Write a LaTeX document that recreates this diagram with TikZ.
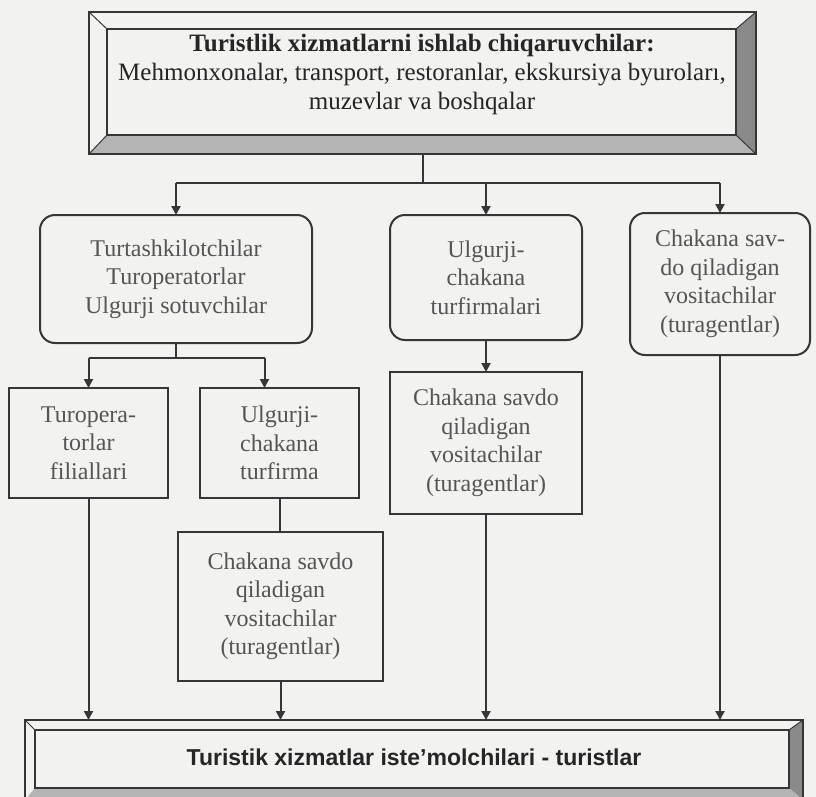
\documentclass[tikz,border=0pt]{standalone}
\usepackage{fontspec}
\setmainfont{Liberation Serif}
\setsansfont{Liberation Sans}
\usetikzlibrary{calc,arrows.meta}

\definecolor{paper}{HTML}{F2F2F0}
\definecolor{ink}{HTML}{363636}
\definecolor{boxtext}{HTML}{555555}
\definecolor{headtext}{HTML}{252525}
\definecolor{bevdark}{HTML}{8A8A8A}
\definecolor{bevlight}{HTML}{B4B4B4}

\begin{document}
\begin{tikzpicture}[x=1pt,y=-1pt,
  line/.style={draw=ink,line width=2pt},
  arr/.style={line,-{Triangle[length=9pt,width=9pt]}},
  frameline/.style={draw=ink,line width=1.8pt},
  corner/.style={draw=ink,line width=1pt},
  shell/.style={inner sep=0pt,outer sep=0pt},
  boxbase/.style={draw=ink,line width=2pt,fill=paper,inner sep=0pt,outer sep=0pt,
    align=center,text=boxtext,font=\fontsize{24}{28.5}\selectfont},
  rbox/.style={boxbase,rounded corners=15pt},
  sbox/.style={boxbase},
  headline/.style={align=center,text=headtext,font=\fontsize{25}{29}\selectfont},
  footline/.style={text=headtext,font=\sffamily\bfseries\fontsize{23}{27}\selectfont},
]
\fill[paper] (0,0) rectangle (816,797);
\useasboundingbox (0,0) rectangle (816,797);

% ---- producers: bevelled frame ----
\node[shell,minimum width=667pt,minimum height=142pt] (prod) at (422.5,83) {};
\coordinate (pnw) at ($(prod.north west)+(18,17)$);
\coordinate (pse) at ($(prod.south east)+(-20,-19)$);
\fill[bevdark] (prod.north east) -- (prod.south east) -- (pse) -- (pse |- pnw) -- cycle;
\fill[bevlight] (prod.south west) -- (prod.south east) -- (pse) -- (pnw |- pse) -- cycle;
\draw[frameline] (prod.north west) rectangle (prod.south east);
\draw[frameline] (pnw) rectangle (pse);
\draw[corner] (prod.north west) -- (pnw);
\draw[corner] (prod.south west) -- (pnw |- pse);
\draw[corner] (prod.north east) -- (pse |- pnw);
\draw[corner] (prod.south east) -- (pse);
\node[headline] (prodtext) at (422,74)
  {\textbf{Turistlik xizmatlarni ishlab chiqaruvchilar:}\\
   Mehmonxonalar, transport, restoranlar, ekskursiya byuroları,\\
   muzevlar va boshqalar};

% ---- intermediaries ----
\node[rbox,minimum width=272pt,minimum height=128pt] (org) at (176,279)
  {Turtashkilotchilar\\Turoperatorlar\\Ulgurji sotuvchilar};
\node[rbox,minimum width=192pt,minimum height=125pt] (whole) at (486,277.5)
  {Ulgurji-\\chakana\\turfirmalari};
\node[rbox,minimum width=180pt,minimum height=142pt] (agents) at (720,284)
  {Chakana sav-\\do qiladigan\\vositachilar\\(turagentlar)};

\node[sbox,minimum width=159pt,minimum height=110pt] (branch) at (88.5,443)
  {Turopera-\\torlar\\filiallari};
\node[sbox,minimum width=159pt,minimum height=110pt] (firm) at (279.5,443)
  {Ulgurji-\\chakana\\turfirma};
\node[sbox,minimum width=192pt,minimum height=142pt] (retailA) at (486,443)
  {Chakana savdo\\qiladigan\\vositachilar\\(turagentlar)};
\node[sbox,minimum width=205pt,minimum height=149pt] (retailB) at (280.5,606.5)
  {Chakana savdo\\qiladigan\\vositachilar\\(turagentlar)};

% ---- consumers: bevelled frame ----
\node[shell,minimum width=778pt,minimum height=80pt] (cons) at (414,760) {};
\coordinate (cnw) at ($(cons.north west)+(10,10)$);
\coordinate (cse) at ($(cons.south east)+(-14,-12)$);
\fill[bevdark] (cons.north east) -- (cons.south east) -- (cse) -- (cse |- cnw) -- cycle;
\fill[bevlight] (cons.south west) -- (cons.south east) -- (cse) -- (cnw |- cse) -- cycle;
\draw[frameline] (cons.north west) rectangle (cons.south east);
\draw[frameline] (cnw) rectangle (cse);
\draw[corner] (cons.north west) -- (cnw);
\draw[corner] (cons.north east) -- (cse |- cnw);
\node[footline] (constext) at (414,757) {Turistik xizmatlar iste'molchilari - turistlar};

% ---- connectors ----
\coordinate (fork1) at ($(prod.south)+(0,29)$);
\draw[line] (prod.south) -- (fork1);
\draw[line] (fork1 -| org.north) -- (fork1 -| agents.north);
\draw[arr] (fork1 -| org.north) -- (org.north);
\draw[arr] (fork1 -| whole.north) -- (whole.north);
\draw[arr] (fork1 -| agents.north) -- (agents.north);

\coordinate (fork2) at ($(org.south)+(0,15)$);
\coordinate (firmin) at ($(firm.north)+(-15,0)$);
\draw[line] (org.south) -- (fork2);
\draw[line] (fork2 -| branch.north) -- (fork2 -| firmin);
\draw[arr] (fork2 -| branch.north) -- (branch.north);
\draw[arr] (fork2 -| firmin) -- (firmin);

\draw[arr] (whole.south) -- (retailA.north);
\draw[line] (firm.south) -- (firm.south |- retailB.north);

\draw[arr] (branch.south) -- (branch.south |- cons.north);
\draw[arr] (retailB.south) -- (retailB.south |- cons.north);
\draw[arr] (retailA.south) -- (retailA.south |- cons.north);
\draw[arr] (agents.south) -- (agents.south |- cons.north);
\end{tikzpicture}
\end{document}
